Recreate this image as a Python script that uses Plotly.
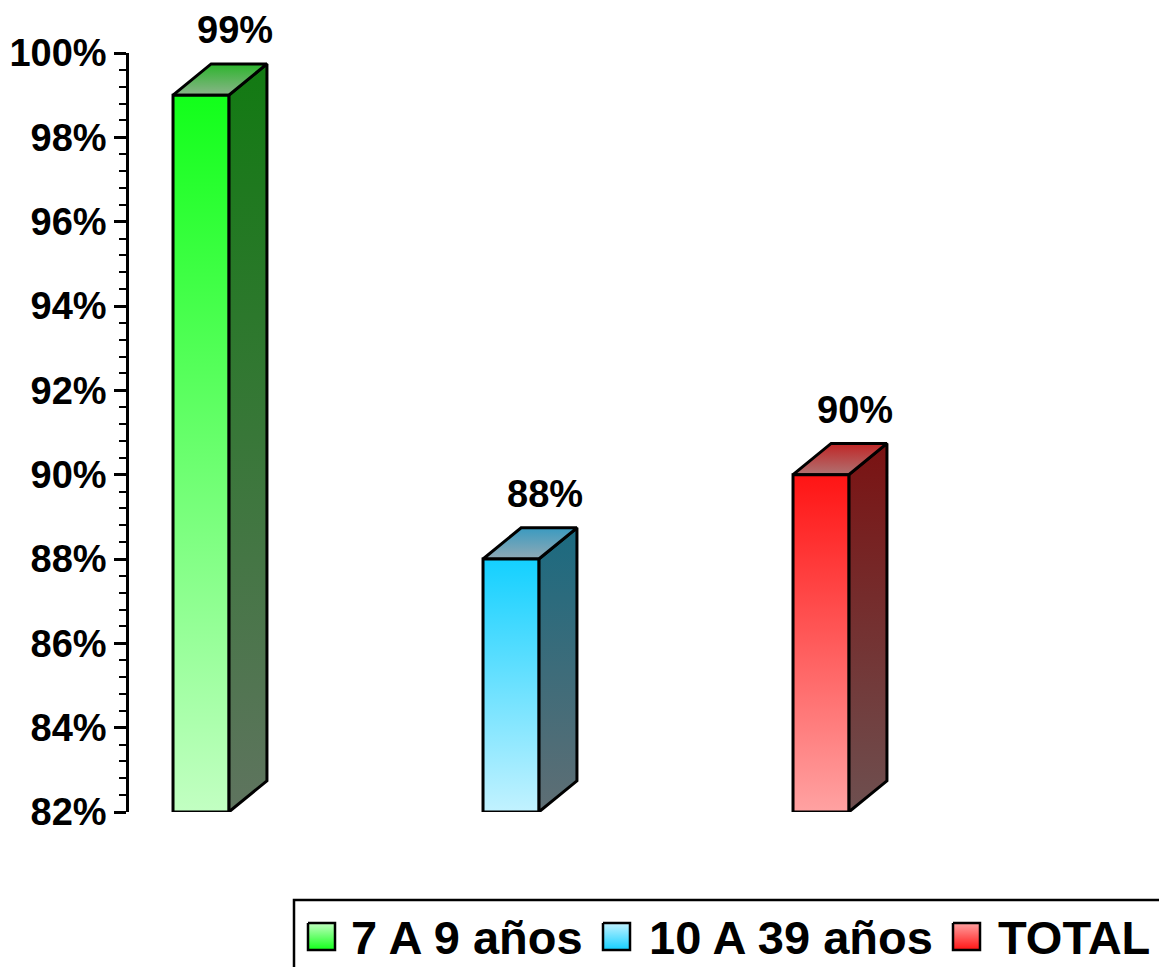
import plotly.graph_objects as go

W, H = 1159, 967

# ---- data ----
categories = ["7 A 9 años", "10 A 39 años", "TOTAL"]
values = [99, 88, 90]
y_min, y_max = 82, 100
y_major = 2
y_minor = 0.4

# ---- styles ----
front_top = ["#12ff1a", "#14d0ff", "#ff1414"]
front_bottom = ["#c2ffc2", "#c2f2ff", "#ffa2a2"]
side_top = ["#127a12", "#1b6a80", "#7a1212"]
side_bottom = ["#5f745f", "#5f6e74", "#6e5050"]
lid_front = ["#8ab58a", "#90aab5", "#b07272"]
lid_back = ["#2cb42c", "#3a9ac0", "#c02525"]

FONT = "Liberation Sans, Arial, sans-serif"
half_w = 0.09   # half width of the front face (category units)
dx = 0.123      # depth offset along x (category units)
dy = 0.74       # depth offset along y (axis units)

px_per_cat = 310.0
left_px, top_px, bottom_px = 129, 53, 812
x_lo = -0.232
x_hi = x_lo + (W - left_px) / px_per_cat
y_dom = [(H - bottom_px) / H, (H - top_px) / H]


def y_to_paper(v):
    return y_dom[0] + (v - y_min) / (y_max - y_min) * (y_dom[1] - y_dom[0])


fig = go.Figure()


def poly(xs, ys, c_low, c_high, xaxis="x", yaxis="y", lw=3):
    fig.add_trace(go.Scatter(
        x=xs, y=ys, mode="lines", fill="toself",
        fillgradient=dict(type="vertical", colorscale=[[0, c_low], [1, c_high]]),
        line=dict(color="black", width=lw),
        xaxis=xaxis, yaxis=yaxis, showlegend=False, hoverinfo="skip",
    ))


for i, v in enumerate(values):
    xl, xr = i - half_w, i + half_w
    # side face
    poly([xr, xr + dx, xr + dx, xr, xr], [y_min, y_min + dy, v + dy, v, y_min],
         side_bottom[i], side_top[i])
    # top face
    poly([xl, xr, xr + dx, xl + dx, xl], [v, v, v + dy, v + dy, v],
         lid_front[i], lid_back[i])
    # front face
    poly([xl, xr, xr, xl, xl], [y_min, y_min, v, v, y_min],
         front_bottom[i], front_top[i])

annotations = []
for i, v in enumerate(values):
    annotations.append(dict(
        x=i + 0.11, y=y_to_paper(v + dy + 0.8), xref="x", yref="paper", text=f"{v}%",
        showarrow=False, xanchor="center", yanchor="middle",
        font=dict(family=FONT, size=38, color="black", weight="bold"),
    ))

# ---- custom legend drawn on a pixel overlay ----
icon_x = [308, 603, 953]
text_x = [349, 647, 996]
icon_y0, icon_y1 = 923, 950
for i, name in enumerate(categories):
    x0 = icon_x[i]
    x1 = x0 + 27
    # reversed y axis: lowest value is at the top
    poly([x0, x1, x1, x0, x0], [icon_y0, icon_y0, icon_y1, icon_y1, icon_y0],
         front_top[i], front_bottom[i], xaxis="x2", yaxis="y2", lw=2.5)
    annotations.append(dict(
        x=text_x[i], y=937, xref="x2", yref="y2", text=name, showarrow=False,
        xanchor="left", yanchor="middle",
        font=dict(family=FONT, size=47, color="black", weight="bold"),
    ))

shapes = [dict(type="rect", xref="x2", yref="y2", x0=294, x1=1175, y0=900, y1=985,
               line=dict(color="black", width=2.5), fillcolor="rgba(0,0,0,0)", layer="below")]

fig.update_layout(
    template="none",
    width=W, height=H,
    margin=dict(l=0, r=0, t=0, b=0, pad=0, autoexpand=False),
    paper_bgcolor="white", plot_bgcolor="rgba(0,0,0,0)",
    showlegend=False,
    annotations=annotations,
    shapes=shapes,
    xaxis=dict(domain=[left_px / W, 1], range=[x_lo, x_hi], visible=False,
               fixedrange=True, automargin=False),
    yaxis=dict(
        domain=y_dom, automargin=False,
        range=[y_min, y_max], tick0=y_min, dtick=y_major, ticksuffix="%",
        ticks="outside", ticklen=12, tickwidth=2.5, tickcolor="black",
        showline=True, linecolor="black", linewidth=2.5,
        showgrid=False, zeroline=False,
        minor=dict(dtick=y_minor, tick0=y_min, ticks="outside", ticklen=7,
                   tickwidth=2, tickcolor="black", showgrid=False),
        tickfont=dict(family=FONT, size=38, color="black", weight="bold"),
        anchor="x", fixedrange=True,
    ),
    xaxis2=dict(domain=[0, 1], range=[0, W], visible=False, anchor="y2",
                fixedrange=True, automargin=False),
    yaxis2=dict(domain=[0, 1], range=[H, 0], visible=False, anchor="x2",
                fixedrange=True, automargin=False),
)

fig.write_html("out.html", config={"displayModeBar": False},
               post_script="document.body.style.margin='0';document.body.style.overflow='hidden';")
